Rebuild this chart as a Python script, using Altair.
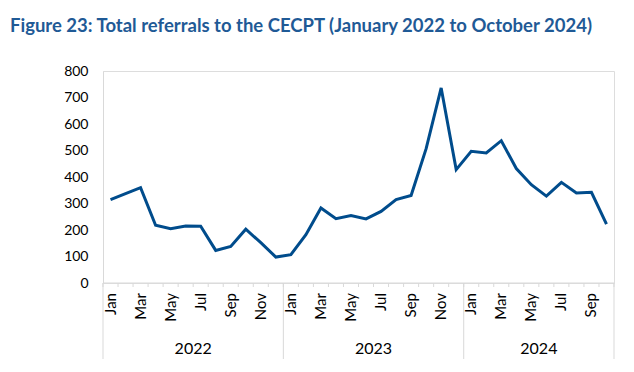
import altair as alt
import pandas as pd

TITLE = "Figure 23: Total referrals to the CECPT (January 2022 to October 2024)"
month_names = ["Jan", "Feb", "Mar", "Apr", "May", "Jun", "Jul", "Aug", "Sep", "Oct", "Nov", "Dec"]
years = ["2022", "2023", "2024"]
months_per_year = [12, 12, 10]
referrals = [315, 337, 360, 218, 205, 215, 214, 123, 138, 203, 152, 98,
             107, 182, 283, 243, 255, 242, 270, 315, 330, 507, 736, 428,
             497, 491, 537, 432, 371, 328, 380, 340, 342, 222]
y_ticks = [0, 100, 200, 300, 400, 500, 600, 700, 800]

rows = []
i = 0
for yr, n in zip(years, months_per_year):
    for m in range(n):
        rows.append({"pos": i + 0.5, "month": month_names[m], "year": yr, "value": referrals[i]})
        i += 1
df = pd.DataFrame(rows)
n_total = len(df)

# month labels shown on every other month
label_df = df[[month_names.index(m) % 2 == 0 for m in df["month"]]]

# year boundaries and centres
bounds = [0]
for n in months_per_year:
    bounds.append(bounds[-1] + n)
year_df = pd.DataFrame({"year": years,
                        "center": [(bounds[k] + bounds[k + 1]) / 2 for k in range(len(years))]})
bound_df = pd.DataFrame({"b": bounds})
tick_df = pd.DataFrame({"b": list(range(n_total + 1))})
domain_df = pd.DataFrame({"a": [0], "z": [n_total]})

FONT = "Lato"
GRAY = "#d9d9d9"
BLUE = "#004C8C"

xscale = alt.Scale(domain=[0, n_total], nice=False, zero=False)
yscale = alt.Scale(domain=[0, 800], nice=False)

line = alt.Chart(df).mark_line(color=BLUE, strokeWidth=3).encode(
    x=alt.X("pos:Q", scale=xscale, axis=None),
    y=alt.Y("value:Q", scale=yscale, title=None,
            axis=alt.Axis(values=y_ticks, ticks=False, grid=False, domainColor=GRAY,
                          labelFont=FONT, labelFontSize=14, labelColor="#000000",
                          labelPadding=15)),
)

domain = alt.Chart(domain_df).mark_rule(color=GRAY, strokeWidth=1).encode(
    x=alt.X("a:Q", scale=xscale, axis=None), x2="z:Q", y=alt.value(212))

ticks = alt.Chart(tick_df).mark_rule(color=GRAY, strokeWidth=1).encode(
    x=alt.X("b:Q", scale=xscale, axis=None), y=alt.value(212), y2=alt.value(216))

seps = alt.Chart(bound_df).mark_rule(color=GRAY, strokeWidth=1).encode(
    x=alt.X("b:Q", scale=xscale, axis=None), y=alt.value(212), y2=alt.value(288))

month_text = alt.Chart(label_df).mark_text(font=FONT, fontSize=15, color="#000000",
                                           angle=270, align="right", baseline="middle").encode(
    x=alt.X("pos:Q", scale=xscale, axis=None), y=alt.value(222), text="month:N")

year_text = alt.Chart(year_df).mark_text(font=FONT, fontSize=16, color="#000000",
                                         baseline="middle").encode(
    x=alt.X("center:Q", scale=xscale, axis=None), y=alt.value(278), text="year:N")

title = alt.Chart(pd.DataFrame({"t": [TITLE]})).mark_text(
    font=FONT, fontSize=18.5, fontWeight="bold", color="#1F5A96",
    align="left", baseline="alphabetic").encode(
    x=alt.value(-93), y=alt.value(-39), text="t:N")

chart = alt.layer(domain, ticks, seps, line, month_text, year_text, title).properties(
    width=511, height=212, autosize="none",
    padding={"left": 95, "top": 63, "right": 12, "bottom": 81},
).configure_view(stroke=None).configure(background="white")

chart.save("out.html", embed_options={"renderer": "svg", "actions": False})
